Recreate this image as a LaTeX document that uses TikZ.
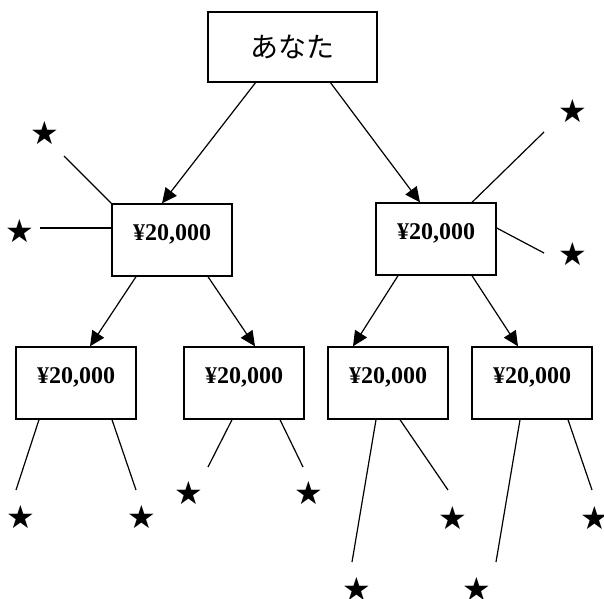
\documentclass[tikz,border=0pt]{standalone}
\usepackage{fontspec}
\setmainfont{Liberation Serif}
\newfontfamily\jpfont{Noto Sans CJK JP}
\newfontfamily\starfont{DejaVu Sans}
\usepackage{tikz}
\usetikzlibrary{arrows.meta}

\begin{document}
\begin{tikzpicture}[x=1pt,y=-1pt,
  box/.style={draw,line width=1.4pt,minimum width=120pt,minimum height=72pt,inner sep=0pt},
  money/.style={box,font=\fontsize{24}{26}\selectfont\bfseries,text height=10pt,text depth=10pt},
  starmark/.style={inner sep=0pt,font=\starfont\fontsize{32}{32}\selectfont},
  link/.style={line width=1.2pt,-{Triangle[length=15pt,width=14pt]}},
  twig/.style={line width=1.2pt}]
\useasboundingbox (0,0) rectangle (604,598);

% Boxes
\node[box,minimum width=169pt,minimum height=70pt,font=\jpfont\fontsize{28}{30}\selectfont] (you) at (292.5,47) {あなた};
\node[money] (la) at (172,240) {¥20,000};
\node[money] (lb) at (436,239) {¥20,000};
\node[money] (ma) at (76,383) {¥20,000};
\node[money] (mb) at (244,383) {¥20,000};
\node[money] (mc) at (388,383) {¥20,000};
\node[money] (md) at (532,383) {¥20,000};

% Arrows
\draw[link] ([xshift=-37pt]you.south) -- ([xshift=-10pt]la.north);
\draw[link] ([xshift=38pt]you.south) -- ([xshift=-16pt]lb.north);
\draw[link] ([xshift=-36pt]la.south) -- ([xshift=14pt]ma.north);
\draw[link] ([xshift=36pt]la.south) -- ([xshift=11pt]mb.north);
\draw[link] ([xshift=-38pt]lb.south) -- ([xshift=-35pt]mc.north);
\draw[link] ([xshift=36pt]lb.south) -- ([xshift=-14pt]md.north);

% Stars
\node[starmark] (s1) at (45,133) {★};
\node[starmark] (s2) at (20,231) {★};
\node[starmark] (s3) at (573,111) {★};
\node[starmark] (s4) at (573,254) {★};
\node[starmark] (s5) at (21,517) {★};
\node[starmark] (s6) at (142,517) {★};
\node[starmark] (s7) at (189,493) {★};
\node[starmark] (s8) at (309,493) {★};
\node[starmark] (s9) at (357,589) {★};
\node[starmark] (s10) at (453,518) {★};
\node[starmark] (s11) at (477,589) {★};
\node[starmark] (s12) at (595,518) {★};

% Free ends
\coordinate (e1) at (64,156);
\coordinate (e2) at (40,228);
\coordinate (e3) at (544,132);
\coordinate (e4) at (544,253);
\coordinate (e5) at (16,490);
\coordinate (e6) at (136,490);
\coordinate (e7) at (208,467);
\coordinate (e8) at (303,467);
\coordinate (e9) at (352,562);
\coordinate (e10) at (448,490);
\coordinate (e11) at (496,562);
\coordinate (e12) at (592,490);

% Lines to stars
\draw[twig] (la.north west) -- (e1);
\draw[twig] ([yshift=12pt]la.west) -- (e2);
\draw[twig] ([xshift=36pt]lb.north) -- (e3);
\draw[twig] ([yshift=11pt]lb.east) -- (e4);
\draw[twig] ([xshift=-37pt]ma.south) -- (e5);
\draw[twig] ([xshift=36pt]ma.south) -- (e6);
\draw[twig] ([xshift=-12pt]mb.south) -- (e7);
\draw[twig] ([xshift=36pt]mb.south) -- (e8);
\draw[twig] ([xshift=-12pt]mc.south) -- (e9);
\draw[twig] ([xshift=12pt]mc.south) -- (e10);
\draw[twig] ([xshift=-12pt]md.south) -- (e11);
\draw[twig] ([xshift=36pt]md.south) -- (e12);
\end{tikzpicture}
\end{document}
